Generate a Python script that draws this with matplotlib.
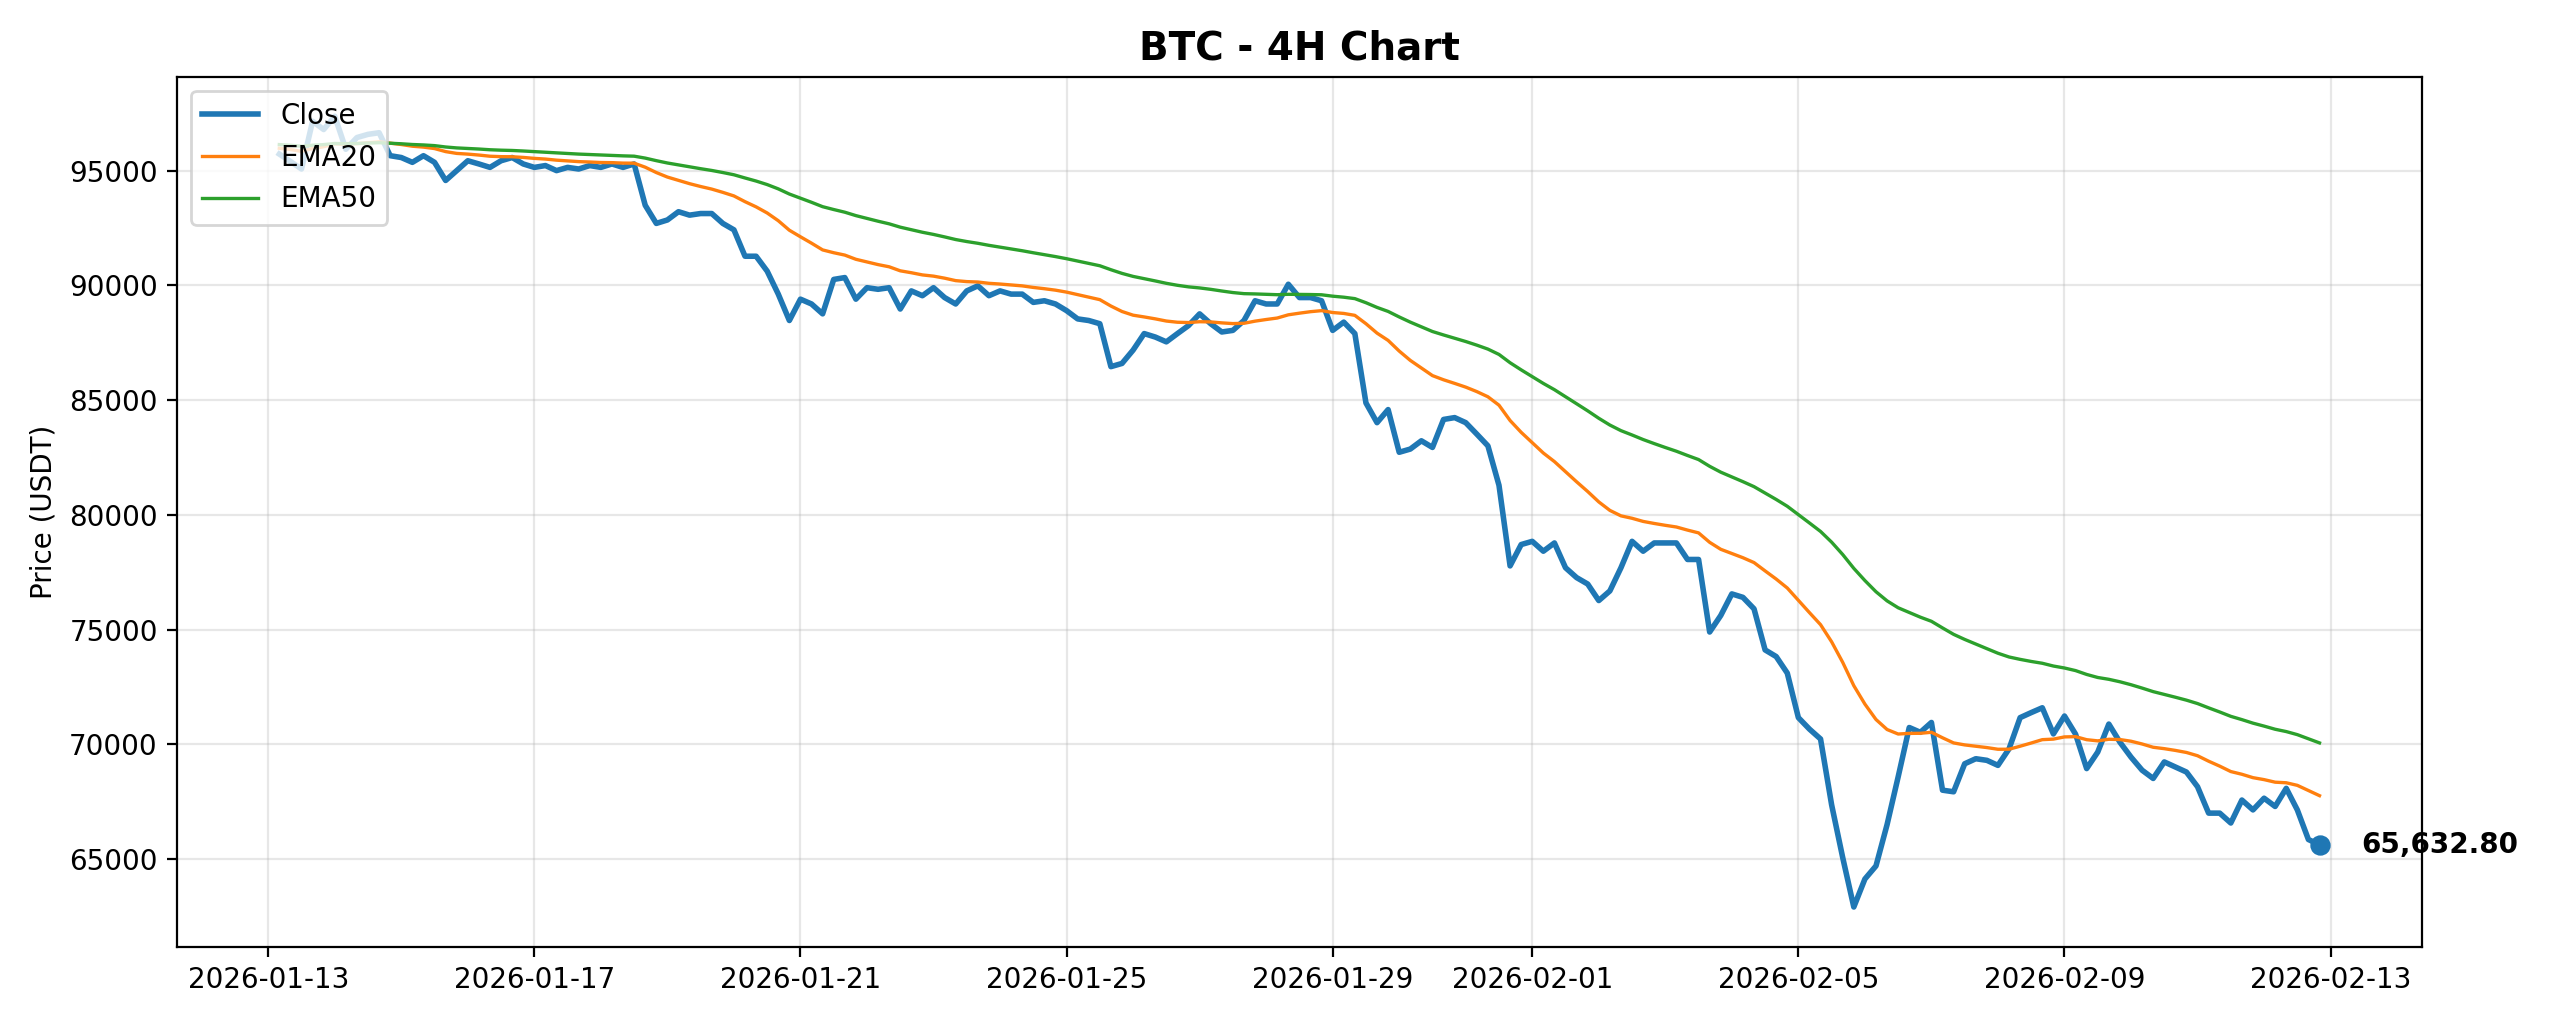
import pandas as pd
import matplotlib.pyplot as plt
import matplotlib.dates as mdates

symbol = "BTC"
timeframe = "4H"
end_time = "2026-02-12 20:00"

close = [
    95720, 95400, 95070, 97150, 96790, 97370, 95930, 96440, 96580, 96650,
    95650, 95570, 95360, 95650, 95360, 94570, 95000, 95430, 95290, 95140,
    95430, 95570, 95290, 95140, 95220, 95000, 95140, 95070, 95220, 95140,
    95290, 95140, 95290, 93490, 92700, 92850, 93210, 93060, 93130, 93130,
    92700, 92420, 91270, 91270, 90620, 89620, 88470, 89400, 89190, 88760,
    90260, 90340, 89400, 89900, 89830, 89900, 88970, 89760, 89550, 89900,
    89470, 89190, 89760, 89980, 89550, 89760, 89620, 89620, 89260, 89330,
    89190, 88900, 88540, 88470, 88330, 86460, 86600, 87180, 87900, 87750,
    87540, 87900, 88250, 88760, 88330, 87970, 88040, 88470, 89330, 89190,
    89190, 90050, 89470, 89470, 89330, 88040, 88400, 87900, 84880, 84020,
    84590, 82730, 82870, 83230, 82940, 84160, 84240, 84020, 83520, 83010,
    81290, 77780, 78710, 78850, 78420, 78780, 77700, 77270, 76990, 76270,
    76690, 77700, 78850, 78420, 78780, 78780, 78780, 78060, 78060, 74900,
    75620, 76560, 76410, 75910, 74120, 73830, 73110, 71170, 70670, 70240,
    67370, 65070, 62920, 64140, 64710, 66510, 68590, 70740, 70530, 70960,
    68010, 67940, 69160, 69380, 69310, 69090, 69810, 71170, 71390, 71600,
    70460, 71240, 70450, 68950, 69670, 70890, 70100, 69450, 68880, 68520,
    69240, 69020, 68800, 68160, 67010, 67010, 66580, 67580, 67150, 67660,
    67300, 68090, 67150, 65860, 65632.8,
]

# EMA seeds taken from the level the averages show at the left edge
ema20_seed = 96000
ema50_seed = 96150

times = pd.date_range(end=end_time, periods=len(close), freq="4h")
s = pd.Series(close, index=times)


def ema(series, span, seed):
    padded = pd.concat([pd.Series([seed]), series.reset_index(drop=True)])
    out = padded.ewm(span=span, adjust=False).mean().iloc[1:]
    out.index = series.index
    return out


ema20 = ema(s, 20, ema20_seed)
ema50 = ema(s, 50, ema50_seed)

fig, ax = plt.subplots(figsize=(12.8, 5.12), dpi=200)
ax.plot(s.index, s.values, color="#1f77b4", linewidth=2, label="Close")
ax.plot(ema20.index, ema20.values, color="#ff7f0e", linewidth=1.2, label="EMA20")
ax.plot(ema50.index, ema50.values, color="#2ca02c", linewidth=1.2, label="EMA50")

last_t, last_v = s.index[-1], s.values[-1]
ax.scatter([last_t], [last_v], color="#1f77b4", s=40, zorder=5)
ax.annotate(f"{last_v:,.2f}", (last_t, last_v), xytext=(15, 0),
            textcoords="offset points", va="center", fontweight="bold", fontsize=10)

ax.set_title(f"{symbol} - {timeframe} Chart", fontsize=14, fontweight="bold")
ax.set_ylabel("Price (USDT)")
ax.grid(True, alpha=0.3)
ax.legend(loc="upper left")
ax.xaxis.set_major_formatter(mdates.DateFormatter("%Y-%m-%d"))

plt.tight_layout()
plt.savefig("out.png")
